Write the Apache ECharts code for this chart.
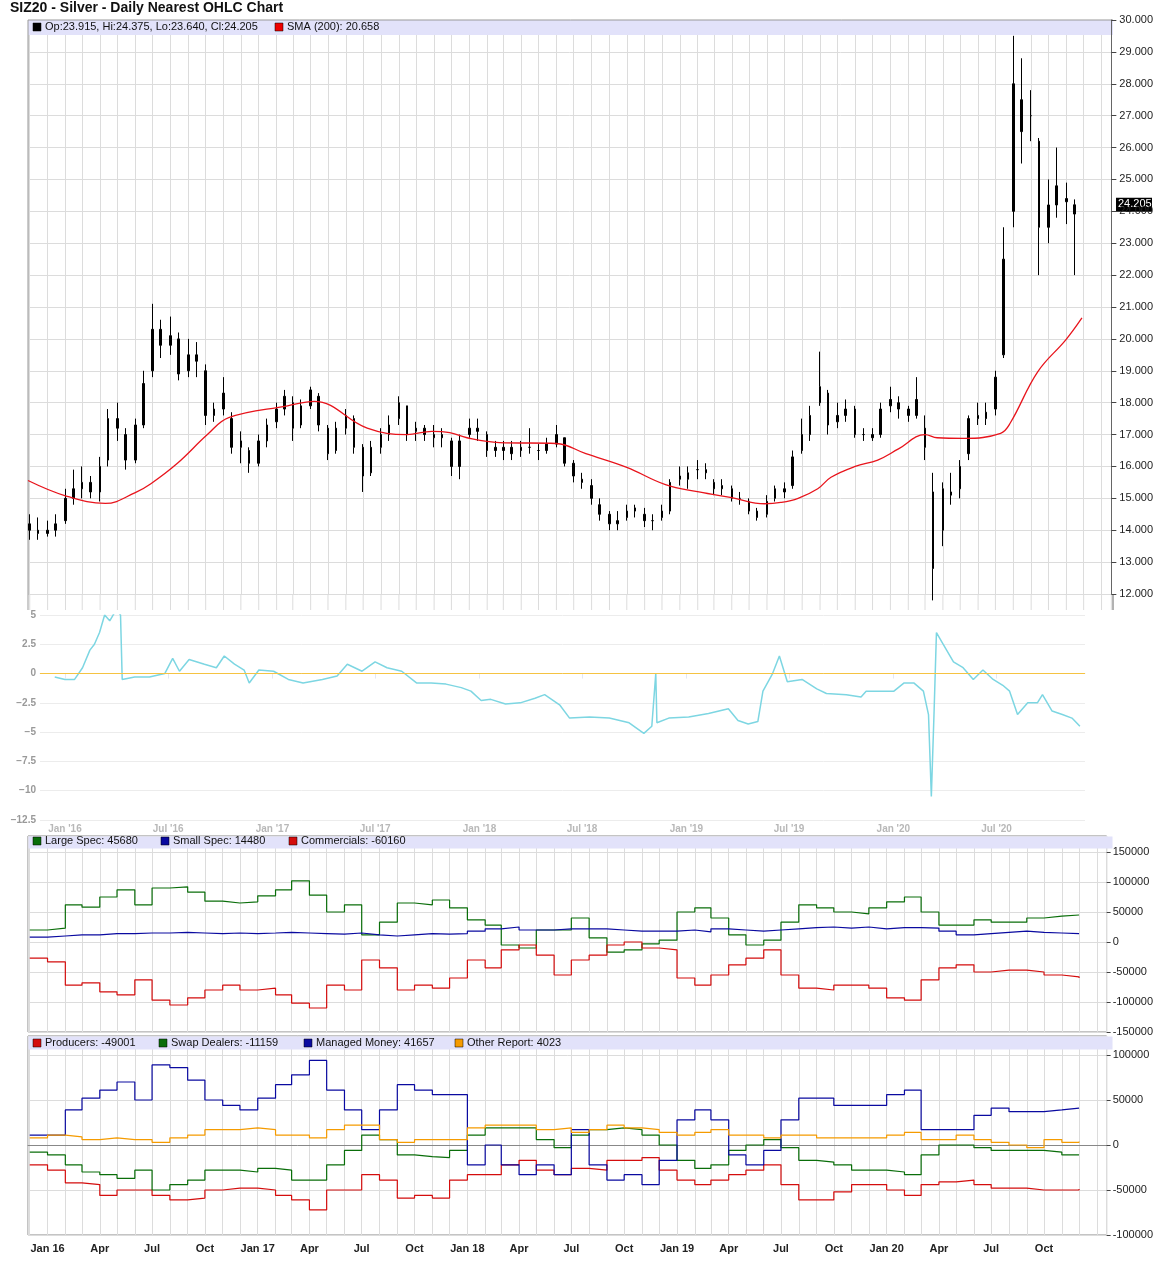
<!DOCTYPE html>
<html>
<head>
<meta charset="utf-8">
<script src="https://cdn.jsdelivr.net/npm/echarts@6/dist/echarts.min.js"></script>
<style>
  html, body { margin: 0; padding: 0; background: #fff; }
  #chart { width: 1156px; height: 1276px; }
</style>
</head>
<body>
<div id="chart"></div>
<script>
// half-month OHLC bars [open, close, low, high], starting 2015-12-01
const priceBars = [
  [14.2,14.0,13.7,14.5],[14.0,13.9,13.7,14.4],
  [13.9,14.0,13.8,14.3],[14.0,14.2,13.8,14.5],[14.3,15.0,14.2,15.3],[15.0,15.3,14.8,15.9],
  [15.3,15.5,15.0,16.0],[15.5,15.2,15.0,15.7],[15.2,16.0,14.9,16.3],[16.2,17.5,16.0,17.8],
  [17.5,17.2,16.8,18.0],[17.0,16.2,15.9,17.2],[16.2,17.3,16.1,17.5],[17.3,18.6,17.2,19.0],
  [19.0,20.3,18.8,21.1],[20.3,19.8,19.4,20.6],[19.8,20.1,19.5,20.7],[20.0,18.9,18.7,20.2],
  [19.0,19.5,18.8,20.0],[19.5,19.3,18.8,19.9],[19.0,17.6,17.3,19.2],[17.6,17.8,17.4,18.0],
  [17.8,18.3,17.6,18.8],[17.5,16.6,16.4,17.7],[16.6,16.8,16.1,17.1],[16.5,16.1,15.8,16.6],
  [16.1,16.8,16.0,17.0],[16.8,17.3,16.6,17.5],[17.4,17.8,17.2,18.0],[17.8,18.2,17.6,18.4],
  [18.0,17.2,16.8,18.2],[17.3,17.9,17.2,18.1],[17.9,18.4,17.8,18.5],[18.2,17.3,17.1,18.3],
  [17.2,16.4,16.2,17.3],[16.5,17.2,16.4,17.4],[17.2,17.6,17.0,17.8],[17.5,16.6,16.4,17.6],
  [16.6,15.7,15.2,16.7],[15.8,16.6,15.7,16.8],[16.6,17.0,16.4,17.2],[17.0,17.3,16.8,17.6],
  [17.5,18.0,17.3,18.2],[17.9,17.0,16.8,17.9],[17.1,17.2,16.8,17.4],[17.2,17.0,16.8,17.3],
  [17.0,16.9,16.6,17.3],[16.9,17.0,16.6,17.2],[16.8,16.0,15.7,16.9],[16.0,16.8,15.6,17.0],
  [17.0,17.2,16.9,17.5],[17.2,17.1,16.8,17.5],[17.0,16.5,16.3,17.1],[16.5,16.6,16.3,16.8],
  [16.6,16.5,16.2,16.8],[16.4,16.6,16.2,16.8],[16.5,16.6,16.3,16.8],[16.6,16.6,16.4,17.2],
  [16.5,16.5,16.2,16.7],[16.5,16.7,16.4,16.9],[16.7,17.0,16.6,17.3],[16.9,16.1,16.0,16.9],
  [16.1,15.7,15.5,16.2],[15.6,15.5,15.3,15.8],[15.4,15.0,14.8,15.6],[14.8,14.5,14.3,15.0],
  [14.5,14.2,14.0,14.6],[14.2,14.3,14.0,14.6],[14.4,14.6,14.3,14.8],[14.6,14.7,14.4,14.8],
  [14.5,14.3,14.1,14.7],[14.3,14.3,14.0,14.5],[14.4,14.6,14.3,14.8],[14.6,15.5,14.5,15.6],
  [15.6,15.7,15.4,16.0],[15.6,15.8,15.3,16.0],[15.9,15.9,15.6,16.2],[15.8,15.9,15.6,16.1],
  [15.5,15.3,15.1,15.6],[15.3,15.4,15.1,15.6],[15.3,15.0,14.9,15.4],[15.0,15.0,14.8,15.2],
  [14.9,14.6,14.5,15.0],[14.6,14.4,14.3,14.7],[14.5,14.9,14.4,15.1],[15.0,15.3,14.9,15.4],
  [15.3,15.2,15.0,15.5],[15.4,16.3,15.3,16.5],[16.5,17.0,16.4,17.5],[17.0,17.6,16.8,17.9],
  [18.0,18.5,17.9,19.6],[18.3,17.3,17.0,18.4],[17.4,17.6,17.2,18.0],[17.6,17.8,17.4,18.1],
  [17.8,17.0,16.9,17.9],[17.0,17.0,16.8,17.2],[16.9,17.0,16.8,17.2],[17.0,17.8,16.9,18.0],
  [17.9,18.1,17.7,18.5],[18.0,17.8,17.5,18.2],[17.8,17.6,17.4,17.9],[17.6,18.1,17.5,18.8],
  [17.2,16.6,16.2,17.6],[15.2,12.8,11.8,15.8],[14.0,15.3,13.5,15.5],[15.1,15.2,14.8,15.8],
  [15.3,16.0,15.0,16.2],[16.4,17.5,16.2,17.6],[17.5,17.6,17.3,18.0],[17.5,17.7,17.3,18.0],
  [17.8,18.8,17.6,19.0],[19.5,22.5,19.4,23.5],[24.0,28.0,23.5,29.5],[26.5,27.5,25.5,28.8],
  [27.0,27.0,26.2,27.8],[26.2,23.5,22.0,26.3],[23.5,24.2,23.0,25.0],[24.2,24.8,23.8,26.0],
  [24.3,24.4,23.6,24.9],[23.915,24.205,22.0,24.375]
];

const smaPoints = [
  ['2015-11-28',15.56],['2016-02-01',15.08],['2016-04-10',14.84],['2016-06-01',15.18],
  ['2016-06-28',15.46],['2016-08-13',16.1],['2016-10-04',17.0],['2016-11-10',17.53],
  ['2017-02-20',17.9],['2017-04-07',18.04],['2017-07-08',17.2],['2017-09-15',17.0],
  ['2017-10-28',17.1],['2017-11-28',17.06],['2017-12-28',16.9],['2018-02-22',16.75],
  ['2018-06-01',16.72],['2018-07-22',16.4],['2018-10-01',15.97],['2018-12-07',15.43],
  ['2019-02-03',15.2],['2019-04-01',15.02],['2019-05-28',14.83],['2019-06-25',14.87],
  ['2019-07-25',15.0],['2019-08-28',15.3],['2019-09-20',15.66],['2019-11-01',16.0],
  ['2019-12-10',16.2],['2020-01-15',16.55],['2020-03-01',17.0],['2020-03-22',16.9],
  ['2020-05-08',16.88],['2020-07-10',17.04],['2020-07-27',17.37],['2020-09-12',18.96],
  ['2020-10-31',19.97],['2020-11-28',20.658]
];

const oscPoints = [
  ['2015-12-14',-0.3],['2016-01-01',-0.5],['2016-01-18',-0.5],['2016-02-01',0.5],['2016-02-14',2],
  ['2016-02-22',2.5],['2016-03-02',3.5],['2016-03-11',5],['2016-03-20',4.5],['2016-04-01',5.5],
  ['2016-04-08',5],['2016-04-11',-0.5],['2016-05-03',-0.3],['2016-05-29',-0.3],['2016-06-25',0],
  ['2016-07-09',1.3],['2016-07-21',0.2],['2016-08-07',1.2],['2016-09-03',0.8],['2016-09-24',0.5],
  ['2016-10-08',1.5],['2016-10-26',0.8],['2016-11-12',0.3],['2016-11-21',-0.8],['2016-12-08',0.3],
  ['2017-01-03',0.2],['2017-01-29',-0.5],['2017-02-24',-0.8],['2017-03-30',-0.5],['2017-04-25',-0.2],
  ['2017-05-13',0.8],['2017-06-08',0.2],['2017-07-01',1],['2017-07-22',0.5],['2017-08-17',0.2],
  ['2017-09-12',-0.8],['2017-10-08',-0.8],['2017-11-03',-0.9],['2017-11-30',-1.2],['2017-12-17',-1.5],
  ['2018-01-04',-2.3],['2018-01-21',-2.2],['2018-02-16',-2.6],['2018-03-14',-2.5],['2018-04-09',-2.1],
  ['2018-04-26',-1.8],['2018-05-23',-2.7],['2018-06-09',-3.8],['2018-07-14',-3.7],['2018-08-18',-3.8],
  ['2018-09-22',-4.2],['2018-10-18',-5.1],['2018-11-01',-4.5],['2018-11-08',0],['2018-11-10',-4.2],
  ['2018-12-01',-3.8],['2019-01-05',-3.7],['2019-02-09',-3.4],['2019-03-16',-3.0],['2019-04-02',-4.0],
  ['2019-04-20',-4.3],['2019-05-07',-4.1],['2019-05-16',-1.5],['2019-06-02',0],['2019-06-14',1.5],
  ['2019-06-28',-0.7],['2019-07-24',-0.5],['2019-08-19',-1.3],['2019-09-05',-1.7],['2019-10-10',-1.8],
  ['2019-11-05',-2.0],['2019-11-14',-1.5],['2020-01-02',-1.5],['2020-01-20',-0.8],['2020-02-06',-0.8],
  ['2020-02-23',-1.5],['2020-03-03',-3.5],['2020-03-08',-10.5],['2020-03-13',-3],['2020-03-17',3.5],
  ['2020-03-29',2.5],['2020-04-16',1],['2020-05-03',0.5],['2020-05-21',-0.5],['2020-06-07',0.3],
  ['2020-06-25',-0.5],['2020-07-12',-1.0],['2020-07-24',-1.5],['2020-08-07',-3.5],['2020-08-25',-2.5],
  ['2020-09-11',-2.5],['2020-09-20',-1.8],['2020-10-07',-3.2],['2020-10-25',-3.5],['2020-11-11',-3.8],
  ['2020-11-25',-4.5]
];

// monthly COT values, starting 2015-12-01
const largeSpec = [20000,23000,62000,58000,75000,87000,62000,90000,92000,83000,68000,65000,67000,77000,87000,102000,78000,50000,62000,12000,33000,65000,62000,70000,57000,37000,28000,-5000,-10000,20000,20000,40000,7000,-17000,-13000,-3000,3000,50000,57000,40000,12000,-5000,3000,33000,62000,57000,50000,47000,57000,67000,75000,50000,28000,28000,37000,33000,33000,40000,43000,45000,45680];
const smallSpec = [8000,10000,12000,12000,14000,14000,15000,15000,16000,15000,14000,15000,14000,15000,16000,15000,14000,13000,15000,12000,10000,12000,14000,13000,14000,18000,22000,25000,20000,20000,22000,22000,22000,20000,18000,18000,18000,20000,17000,22000,20000,18000,20000,22000,24000,25000,23000,25000,22000,24000,24000,23000,18000,12000,14000,16000,18000,16000,15000,14000,14480];
const commercials = [-27000,-33000,-72000,-68000,-83000,-88000,-63000,-97000,-105000,-93000,-80000,-72000,-80000,-77000,-88000,-102000,-110000,-72000,-80000,-30000,-43000,-80000,-72000,-77000,-60000,-30000,-43000,-13000,-5000,-22000,-55000,-30000,-22000,-5000,0,-10000,-13000,-60000,-72000,-55000,-38000,-27000,-13000,-55000,-77000,-80000,-72000,-72000,-77000,-93000,-97000,-63000,-43000,-38000,-50000,-47000,-47000,-50000,-55000,-58000,-60160];
const producers = [-22000,-28000,-42000,-44000,-56000,-50000,-50000,-56000,-61000,-59000,-50000,-48000,-48000,-50000,-56000,-61000,-72000,-50000,-50000,-33000,-39000,-59000,-56000,-59000,-39000,-33000,-33000,-22000,-17000,-28000,-33000,-26000,-28000,-17000,-17000,-14000,-28000,-39000,-44000,-39000,-33000,-28000,-22000,-44000,-61000,-61000,-52000,-44000,-44000,-50000,-56000,-44000,-41000,-39000,-44000,-48000,-48000,-50000,-50000,-50000,-49001];
const swapDealers = [-8000,-11000,-22000,-30000,-33000,-37000,-28000,-50000,-44000,-39000,-28000,-28000,-30000,-26000,-28000,-39000,-39000,-22000,-6000,11000,6000,-11000,-13000,-14000,-6000,11000,19000,19000,19000,6000,-3000,11000,17000,19000,17000,11000,0,-17000,-26000,-22000,-6000,0,6000,-3000,-17000,-19000,-22000,-28000,-28000,-30000,-33000,-11000,0,0,-3000,-6000,-6000,-6000,-8000,-11000,-11159];
const managedMoney = [11000,11000,39000,52000,61000,70000,50000,89000,86000,72000,50000,44000,39000,52000,67000,78000,94000,61000,39000,17000,39000,67000,61000,56000,56000,-22000,0,-22000,-33000,-22000,-33000,17000,-22000,-39000,-33000,-44000,-17000,28000,39000,28000,-11000,-22000,-6000,28000,52000,52000,44000,44000,44000,56000,61000,17000,17000,17000,33000,41000,37000,37000,39000,41000,41657];
const otherReport = [8000,11000,9000,6000,8000,6000,6000,3000,8000,11000,17000,17000,19000,17000,11000,11000,8000,17000,22000,22000,6000,3000,6000,6000,6000,19000,22000,22000,22000,17000,19000,14000,17000,22000,19000,17000,14000,11000,14000,17000,11000,11000,8000,11000,11000,8000,8000,8000,8000,11000,14000,6000,6000,11000,6000,3000,0,-3000,6000,3000,4023];

function halfMonthDate(i) {
  const m = 11 + Math.floor(i / 2);
  return new Date(2015 + Math.floor(m / 12), m % 12, i % 2 ? 15 : 1).getTime();
}
function monthDate(i) {
  const m = 11 + i;
  return new Date(2015 + Math.floor(m / 12), m % 12, 1).getTime();
}
const priceData = priceBars.map((b, i) => [halfMonthDate(i), b[0], b[1], b[2], b[3]]);
const cot = (arr) => arr.map((v, i) => [monthDate(i), v]);

const X_MIN = new Date(2015, 10, 28).getTime();
const X_MAX = new Date(2021, 0, 18).getTime();
const MON = ['Jan','Feb','Mar','Apr','May','Jun','Jul','Aug','Sep','Oct','Nov','Dec'];
const GRID_C = '#dcdcdc';
const FONT = 'Liberation Sans, Arial, sans-serif';

function monthAxis(gridIndex, showLabels) {
  return {
    type: 'time', gridIndex, min: X_MIN, max: X_MAX,
    splitNumber: 62, minInterval: 28 * 864e5, maxInterval: 31 * 864e5,
    axisLine: { show: showLabels, lineStyle: { color: '#888' } },
    axisTick: { show: false },
    splitLine: { show: true, lineStyle: { color: GRID_C } },
    axisLabel: {
      show: showLabels, color: '#222', fontWeight: 'bold', fontSize: 11, fontFamily: FONT,
      hideOverlap: false, showMinLabel: false, showMaxLabel: false,
      formatter: (v) => {
        const d = new Date(v);
        const m = d.getMonth();
        if (d.getFullYear() > 2020) return '';
        if (m === 0) return 'Jan ' + String(d.getFullYear()).slice(2);
        return m % 3 === 0 ? MON[m] : '';
      }
    }
  };
}

const chart = echarts.init(document.getElementById('chart'), null, { renderer: 'canvas' });

chart.setOption({
  animation: false,
  textStyle: { fontFamily: FONT },
  grid: [
    { left: 28, right: 43, top: 20, height: 574, show: false },
    { left: 40, right: 71, top: 615, height: 205 },
    { left: 28, right: 43, top: 836, height: 196, show: true, borderColor: '#888', borderWidth: 1 },
    { left: 28, right: 43, top: 1036, height: 199, show: true, borderColor: '#888', borderWidth: 1 }
  ],
  xAxis: [
    monthAxis(0, false),
    {
      type: 'time', gridIndex: 1,
      min: new Date(2015, 10, 18).getTime(), max: new Date(2020, 11, 4).getTime(),
      splitNumber: 10, minInterval: 180 * 864e5, maxInterval: 184 * 864e5,
      axisLine: { lineStyle: { color: '#e4e8f2' } },
      axisTick: { show: true, lineStyle: { color: '#e4e8f2' } },
      splitLine: { show: false },
      axisLabel: {
        color: '#b8b8b8', fontSize: 10, fontWeight: 'bold', showMinLabel: false, showMaxLabel: false, margin: 4,
        formatter: (v) => {
          const d = new Date(v);
          return MON[d.getMonth()] + " '" + String(d.getFullYear()).slice(2);
        }
      }
    },
    monthAxis(2, false),
    monthAxis(3, true)
  ],
  yAxis: [
    {
      gridIndex: 0, position: 'right', min: 12, max: 30, interval: 1,
      axisLine: { show: true, lineStyle: { color: '#666' } },
      axisTick: { show: true, length: 5, lineStyle: { color: '#444' } },
      splitLine: { lineStyle: { color: GRID_C } },
      axisLabel: { color: '#222', fontSize: 11, formatter: (v) => v.toFixed(3) }
    },
    {
      gridIndex: 1, position: 'left', min: -12.5, max: 5, interval: 2.5,
      axisLine: { show: false }, axisTick: { show: false },
      splitLine: { lineStyle: { color: '#ececec' } },
      axisLabel: { color: '#999', fontSize: 10, fontWeight: 'bold', margin: 4,
        formatter: (v) => String(v).replace('-', '\u2212') }
    },
    {
      gridIndex: 2, position: 'right', min: -150000, max: 176667, interval: 50000,
      axisLine: { show: false }, axisTick: { show: true, length: 4, lineStyle: { color: '#444' } },
      splitLine: { lineStyle: { color: GRID_C } },
      axisLabel: { color: '#222', fontSize: 11, showMaxLabel: false, margin: 6, formatter: (v) => String(v) }
    },
    {
      gridIndex: 3, position: 'right', min: -100000, max: 121111, interval: 50000,
      axisLine: { show: false }, axisTick: { show: true, length: 4, lineStyle: { color: '#444' } },
      splitLine: { lineStyle: { color: GRID_C } },
      axisLabel: { color: '#222', fontSize: 11, showMaxLabel: false, margin: 6, formatter: (v) => String(v) }
    }
  ],
  series: [
    {
      type: 'candlestick', xAxisIndex: 0, yAxisIndex: 0, barWidth: 2, clip: false,
      data: priceData,
      encode: { x: 0, y: [1, 2, 3, 4] },
      itemStyle: { color: '#000', color0: '#000', borderColor: '#000', borderColor0: '#000', borderWidth: 1 }
    },
    {
      type: 'line', xAxisIndex: 0, yAxisIndex: 0, data: smaPoints.map((p) => [new Date(p[0]).getTime(), p[1]]),
      showSymbol: false, smooth: 0.4, lineStyle: { color: '#e8141c', width: 1.3 }
    },
    {
      type: 'line', xAxisIndex: 1, yAxisIndex: 1, data: oscPoints.map((p) => [new Date(p[0]).getTime(), p[1]]),
      showSymbol: false, lineStyle: { color: '#7dd6e2', width: 1.5 },
      markLine: { silent: true, symbol: 'none', label: { show: false },
        lineStyle: { color: '#f5c342', width: 1, type: 'solid' }, data: [{ yAxis: 0 }] }
    },
    { type: 'line', xAxisIndex: 2, yAxisIndex: 2, step: 'end', showSymbol: false, data: cot(largeSpec), lineStyle: { color: '#0a6e0a', width: 1.2 } },
    { type: 'line', xAxisIndex: 2, yAxisIndex: 2, step: 'end', showSymbol: false, data: cot(smallSpec), lineStyle: { color: '#0a0aa0', width: 1.2 } },
    { type: 'line', xAxisIndex: 2, yAxisIndex: 2, step: 'end', showSymbol: false, data: cot(commercials), lineStyle: { color: '#d40d0d', width: 1.2 } },
    { type: 'line', xAxisIndex: 3, yAxisIndex: 3, step: 'end', showSymbol: false, data: cot(producers), lineStyle: { color: '#d40d0d', width: 1.2 } },
    { type: 'line', xAxisIndex: 3, yAxisIndex: 3, step: 'end', showSymbol: false, data: cot(swapDealers), lineStyle: { color: '#0a6e0a', width: 1.2 } },
    { type: 'line', xAxisIndex: 3, yAxisIndex: 3, step: 'end', showSymbol: false, data: cot(managedMoney), lineStyle: { color: '#0a0aa0', width: 1.2 } },
    { type: 'line', xAxisIndex: 3, yAxisIndex: 3, step: 'end', showSymbol: false, data: cot(otherReport), lineStyle: { color: '#f59b00', width: 1.2 } }
  ]
});

// header bands, legends, title and the strip below the price grid
function legendItems(y, items) {
  const out = [];
  let x = 33;
  items.forEach(([color, text, w]) => {
    out.push({ type: 'rect', shape: { x, y: y + 3, width: 8, height: 8 }, style: { fill: color, stroke: '#000', lineWidth: 0.5 } });
    out.push({ type: 'text', x: x + 12, y: y + 1, style: { text, fill: '#111', font: '11px ' + FONT } });
    x += w;
  });
  return out;
}
const lastY = chart.convertToPixel({ xAxisIndex: 0, yAxisIndex: 0 }, [X_MAX, 24.205])[1];
const stripLines = [];
chart.getModel().getComponent('xAxis', 0).axis.scale.getTicks().forEach((t) => {
  const px = chart.convertToPixel({ xAxisIndex: 0 }, t.value);
  if (px > 29 && px < 1112) stripLines.push({ type: 'line', silent: true, shape: { x1: px, y1: 594, x2: px, y2: 610 }, style: { stroke: GRID_C, lineWidth: 1 } });
});
chart.setOption({
  graphic: [
    ...stripLines,
    { type: 'text', x: 10, y: 1, style: { text: 'SIZ20 - Silver - Daily Nearest OHLC Chart', fill: '#111', font: 'bold 14px ' + FONT } },
    { type: 'rect', shape: { x: 28, y: 20, width: 1085, height: 15 }, style: { fill: '#e2e2fa' } },
    { type: 'line', shape: { x1: 28, y1: 20, x2: 28, y2: 610 }, style: { stroke: '#999', lineWidth: 1 } },
    { type: 'line', shape: { x1: 1113, y1: 594, x2: 1113, y2: 610 }, style: { stroke: '#666', lineWidth: 1 } },
    { type: 'line', shape: { x1: 28, y1: 20, x2: 1113, y2: 20 }, style: { stroke: '#999', lineWidth: 1 } },
    ...legendItems(20, [['#000', 'Op:23.915, Hi:24.375, Lo:23.640, Cl:24.205', 242], ['#e00', 'SMA (200): 20.658', 150]]),
    { type: 'rect', shape: { x: 1116, y: lastY - 7, width: 36, height: 14 }, style: { fill: '#000' } },
    { type: 'text', x: 1118, y: lastY - 6, style: { text: '24.205', fill: '#fff', font: '11px ' + FONT } },
    { type: 'rect', shape: { x: 28.5, y: 836.5, width: 1084, height: 12 }, style: { fill: '#e2e2fa' } },
    ...legendItems(834, [['#0a6e0a', 'Large Spec: 45680', 128], ['#0a0aa0', 'Small Spec: 14480', 128], ['#d40d0d', 'Commercials: -60160', 150]]),
    { type: 'rect', shape: { x: 28.5, y: 1036.5, width: 1084, height: 13 }, style: { fill: '#e2e2fa' } },
    ...legendItems(1036, [['#d40d0d', 'Producers: -49001', 126], ['#0a6e0a', 'Swap Dealers: -11159', 145], ['#0a0aa0', 'Managed Money: 41657', 151], ['#f59b00', 'Other Report: 4023', 140]])
  ]
});
</script>
</body>
</html>
